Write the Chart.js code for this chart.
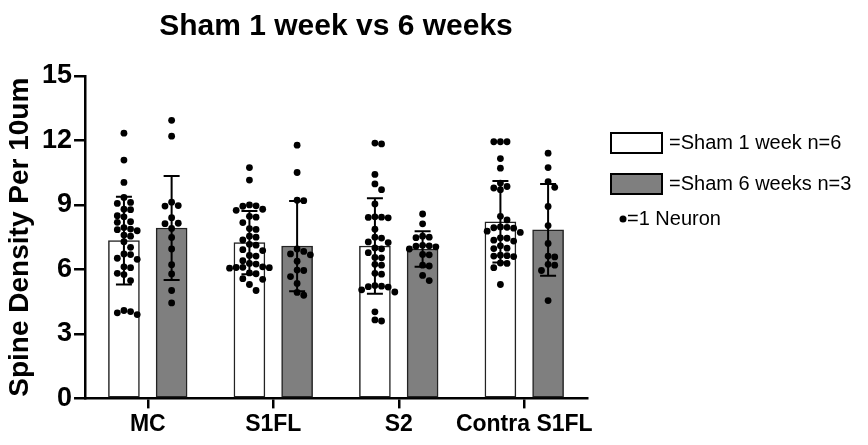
<!DOCTYPE html>
<html>
<head>
<meta charset="utf-8">
<script src="https://cdn.jsdelivr.net/npm/chart.js@4.4.1/dist/chart.umd.min.js"></script>
<style>
  html, body { margin: 0; padding: 0; background: #fff; }
  #wrap { width: 868px; height: 445px; position: relative; }
</style>
</head>
<body>
<div id="wrap"><canvas id="bar-chart"></canvas></div>
<script>
const categories = ["MC", "S1FL", "S2", "Contra S1FL"];
const yTicks = [0, 3, 6, 9, 12, 15];

// bar heights and SD
const week1Mean = [7.34, 7.25, 7.09, 8.22];
const week1Sd = [2.04, 1.47, 2.22, 1.9];
const week6Mean = [7.93, 7.09, 6.95, 7.84];
const week6Sd = [2.42, 2.1, 0.83, 2.13];

// one value per neuron
const mcWeek1 = [12.34, 11.09, 10.05, 9.35, 9.12, 9.07, 8.8, 8.78, 8.5, 8.45, 8.22, 8.19, 7.95, 7.88, 7.85, 7.8, 7.6, 7.55, 7.29, 7.03, 6.72, 6.69, 6.52, 6.47, 6.12, 6.08, 5.82, 5.76, 5.48, 4.09, 4.04, 3.98, 3.9];
const mcWeek6 = [12.94, 12.2, 9.13, 8.95, 8.97, 8.13, 8.41, 8.15, 7.91, 7.49, 6.95, 6.22, 5.79, 5.02, 4.44];
const s1flWeek1 = [10.74, 10.16, 9.0, 8.96, 8.94, 8.8, 8.75, 8.47, 8.43, 8.18, 7.9, 7.86, 7.55, 7.5, 7.37, 7.17, 7.13, 6.92, 6.88, 6.65, 6.62, 6.41, 6.28, 6.25, 6.12, 6.1, 6.09, 6.08, 6.06, 5.84, 5.8, 5.57, 5.54, 5.3, 5.02];
const s1flWeek6 = [11.78, 10.51, 9.22, 9.2, 6.95, 6.84, 6.72, 6.68, 6.38, 5.97, 5.95, 5.67, 5.35, 4.93, 4.8];
const s2Week1 = [11.88, 11.84, 10.42, 9.98, 9.71, 9.05, 8.45, 8.43, 8.42, 8.4, 7.87, 7.5, 7.46, 7.28, 7.25, 7.0, 6.96, 6.78, 6.56, 6.54, 6.24, 6.2, 5.82, 5.78, 5.25, 5.22, 5.2, 5.18, 5.05, 4.95, 4.03, 3.65, 3.6];
const s2Week6 = [8.58, 8.12, 7.55, 7.5, 7.48, 7.12, 7.1, 7.08, 7.05, 6.95, 6.7, 6.68, 6.2, 6.16, 5.72, 5.48];
const contraWeek1 = [11.94, 11.94, 11.94, 11.16, 10.71, 10.02, 9.86, 9.79, 9.71, 8.47, 8.3, 7.98, 7.96, 7.94, 7.92, 7.78, 7.72, 7.47, 7.45, 7.36, 7.32, 7.1, 6.99, 6.97, 6.66, 6.64, 6.62, 6.6, 6.3, 6.28, 6.08, 5.3];
const contraWeek6 = [11.41, 10.74, 10.09, 9.82, 8.93, 8.04, 7.21, 6.62, 6.58, 6.24, 6.2, 5.95, 4.55];

const week1Points = [mcWeek1, s1flWeek1, s2Week1, contraWeek1];
const week6Points = [mcWeek6, s1flWeek6, s2Week6, contraWeek6];

const FONT = '"Liberation Sans", Arial, Helvetica, sans-serif';
const barShift = 0.19; // each bar sits this far (in categories) from the tick

// simple beeswarm so the dots don't overlap (approx px per unit)
const PX_Y = 21.5, PX_CAT = 125, DOT = 6.6;
function swarm(groups, shift) {
  let out = [];
  groups.forEach((vals, ci) => {
    let placed = [];
    vals.slice().sort((a, b) => b - a).forEach((v) => {
      for (let k = 0; k < 20; k++) {
        let s = k === 0 ? 0 : (k % 2 ? (k + 1) / 2 : -k / 2);
        let dx = s * DOT;
        let hit = placed.some((p) => {
          let dy = (v - p.v) * PX_Y;
          return (dx - p.dx) ** 2 + dy * dy < DOT * DOT * 0.98;
        });
        if (!hit) { placed.push({ v: v, dx: dx }); break; }
      }
    });
    placed.forEach((p) => out.push({ x: ci + shift + p.dx / PX_CAT, y: p.v }));
  });
  return out;
}

const errorBars = {
  id: "errorBars",
  afterDatasetDraw(chart, args) {
    let ds = chart.data.datasets[args.index];
    if (!ds.errors) return;
    let ctx = chart.ctx, y = chart.scales.y;
    ctx.save();
    ctx.strokeStyle = "#000";
    ctx.lineWidth = 2;
    args.meta.data.forEach((bar, i) => {
      let m = ds.data[i].y, e = ds.errors[i];
      let top = y.getPixelForValue(m + e), bot = y.getPixelForValue(m - e);
      ctx.beginPath();
      ctx.moveTo(bar.x, top); ctx.lineTo(bar.x, bot);
      ctx.moveTo(bar.x - 8, top); ctx.lineTo(bar.x + 8, top);
      ctx.moveTo(bar.x - 8, bot); ctx.lineTo(bar.x + 8, bot);
      ctx.stroke();
    });
    ctx.restore();
  },
};

const sideLegend = {
  id: "sideLegend",
  afterDraw(chart) {
    let ctx = chart.ctx, x0 = chart.chartArea.right + 24;
    ctx.save();
    ctx.font = "20px " + FONT;
    ctx.textBaseline = "middle";
    chart.data.datasets.slice(0, 2).forEach((ds, i) => {
      let cy = 143 + i * 41;
      ctx.fillStyle = ds.backgroundColor;
      ctx.fillRect(x0, cy - 10, 51, 20);
      ctx.strokeStyle = "#000";
      ctx.lineWidth = 2;
      ctx.strokeRect(x0, cy - 10, 51, 20);
      ctx.fillStyle = "#000";
      ctx.fillText("=" + ds.label, x0 + 58, cy);
    });
    ctx.beginPath();
    ctx.arc(x0 + 12, 219, 3.5, 0, Math.PI * 2);
    ctx.fill();
    ctx.fillText("=1 Neuron", x0 + 16, 219);
    ctx.restore();
  },
};

function barData(means, shift) {
  return means.map((m, i) => ({ x: i + shift, y: m }));
}

let barChart = new Chart(document.getElementById("bar-chart"), {
  type: "bar",
  data: {
    datasets: [
      {
        label: "Sham 1 week n=6",
        data: barData(week1Mean, -barShift),
        errors: week1Sd,
        backgroundColor: "#ffffff",
        borderColor: "#222",
        borderWidth: 1.5,
        borderSkipped: false,
        grouped: false,
        barThickness: 31,
        order: 2,
      },
      {
        label: "Sham 6 weeks n=3",
        data: barData(week6Mean, barShift),
        errors: week6Sd,
        backgroundColor: "#7f7f7f",
        borderColor: "#222",
        borderWidth: 1.5,
        borderSkipped: false,
        grouped: false,
        barThickness: 31,
        order: 2,
      },
      {
        type: "scatter",
        data: swarm(week1Points, -barShift),
        backgroundColor: "#000",
        borderWidth: 0,
        pointRadius: 3.4,
        order: 0,
      },
      {
        type: "scatter",
        data: swarm(week6Points, barShift),
        backgroundColor: "#000",
        borderWidth: 0,
        pointRadius: 3.4,
        order: 0,
      },
    ],
  },
  options: {
    responsive: true,
    maintainAspectRatio: false,
    animation: false,
    layout: {
      padding: { left: 6, right: 281, top: 0, bottom: 5 },
    },
    plugins: {
      legend: { display: false },
      tooltip: { enabled: false },
      title: {
        display: true,
        text: "Sham 1 week vs 6 weeks",
        fullSize: false,
        color: "#000",
        font: { family: FONT, size: 30, weight: "bold", lineHeight: 1 },
        padding: { top: 12, bottom: 34 },
      },
    },
    scales: {
      x: {
        type: "linear",
        min: -0.5,
        max: 3.5,
        offset: false,
        afterBuildTicks: (axis) => {
          axis.ticks = categories.map((c, i) => ({ value: i }));
        },
        grid: {
          offset: false,
          drawOnChartArea: false,
          tickLength: 10,
          color: "#000",
          lineWidth: 2.5,
        },
        border: { color: "#000", width: 2.5 },
        ticks: {
          color: "#000",
          padding: 2,
          maxRotation: 0,
          autoSkip: false,
          callback: (v) => categories[v],
          font: { family: FONT, size: 23, weight: "bold" },
        },
      },
      y: {
        min: 0,
        max: 15,
        afterBuildTicks: (axis) => {
          axis.ticks = yTicks.map((v) => ({ value: v }));
        },
        grid: {
          drawOnChartArea: false,
          tickLength: 11,
          color: "#000",
          lineWidth: 2.5,
        },
        border: { color: "#000", width: 2.5 },
        ticks: {
          color: "#000",
          padding: 2,
          font: { family: FONT, size: 27, weight: "bold" },
        },
        title: {
          display: true,
          text: "Spine Density Per 10um",
          color: "#000",
          font: { family: FONT, size: 28, weight: "bold", lineHeight: 1 },
          padding: { top: 0, bottom: 6 },
        },
      },
    },
  },
  plugins: [errorBars, sideLegend],
});
</script>
</body>
</html>
